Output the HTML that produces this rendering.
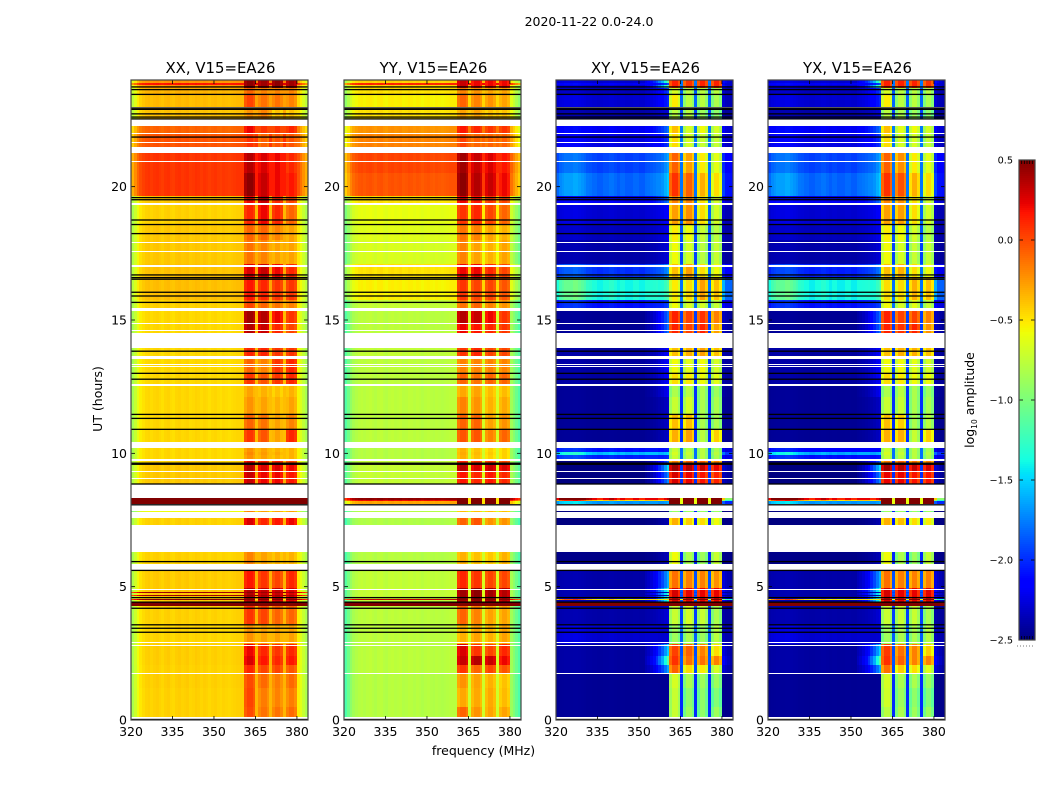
<!DOCTYPE html>
<html>
<head>
<meta charset="utf-8">
<title>2020-11-22 0.0-24.0</title>
<style>
html,body{margin:0;padding:0;background:#fff;width:1050px;height:800px;overflow:hidden}
svg{display:block}
text{font-family:"DejaVu Sans","Liberation Sans",sans-serif;fill:#000}
</style>
</head>
<body>
<svg id="fig" xmlns="http://www.w3.org/2000/svg" width="1050" height="800" viewBox="0 0 1050 800">
<rect x="0" y="0" width="1050" height="800" fill="#fff"/>
<text x="589" y="26" font-size="12.5" text-anchor="middle">2020-11-22 0.0-24.0</text>
<text x="0" y="0" font-size="12.5" text-anchor="middle" transform="translate(102,399) rotate(-90)">UT (hours)</text>
<text x="483.5" y="755" font-size="12.5" text-anchor="middle">frequency (MHz)</text>
<text x="0" y="0" font-size="12.5" text-anchor="middle" transform="translate(974,400) rotate(-90)">log<tspan font-size="7.5" dy="3">10</tspan><tspan dy="-3"> amplitude</tspan></text>
<g id="panels"></g>
<g id="colorbar"></g>
</svg>
<script>
// Axis values
const hourTicks = [0, 5, 10, 15, 20];
const freqTicks = [320, 335, 350, 365, 380];
const colorTicks = [-2.5, -2.0, -1.5, -1.0, -0.5, 0.0, 0.5];
const panelTitles = ["XX, V15=EA26", "YY, V15=EA26", "XY, V15=EA26", "YX, V15=EA26"];
const freqMin = 320, freqMax = 384, hourMin = 0, hourMax = 24, colorMin = -2.5, colorMax = 0.5;

// Time bands (UT hours)
const bandStart = [0.00,0.50,1.20,1.75,2.05,2.40,2.85,3.60,4.27,4.41,4.95,5.85,7.30,7.80,8.10,8.20,8.26,8.85,9.30,9.60,9.75,9.95,10.05,10.43,10.90,11.45,12.10,12.60,13.00,13.65,14.50,14.90,15.46,15.75,16.60,17.10,18.00,18.60,19.35,19.65,20.50,21.49,22.00,22.52,23.00,23.45,23.70,4.50,4.66,4.75,23.83];
const bandEnd   = [0.50,1.20,1.75,2.05,2.40,2.85,3.60,4.27,4.41,4.95,5.62,6.30,7.56,7.84,8.20,8.26,8.31,9.30,9.60,9.75,9.95,10.05,10.25,10.90,11.45,12.10,12.55,13.00,13.54,13.94,14.90,15.34,15.75,16.60,17.10,18.00,18.60,19.35,19.65,20.50,21.27,22.00,22.27,22.95,23.45,23.70,24.00,4.54,4.70,4.79,23.88];

// Background log10 amplitude for each band, outside the RFI sub-bands
const xxBg = [-.45,-.45,-.44,-.45,-.44,-.44,-.46,-.45,.5,-.42,-.43,-.45,-.45,-.6,.5,.5,.5,-.42,-.42,-.44,-.47,-.47,-.47,-.47,-.47,-.47,-.47,-.47,-.47,-.47,-.47,-.47,-.45,-.39,-.4,-.42,-.42,-.45,-.42,.05,.05,-.05,-.1,-.4,-.38,-.35,-.25,.45,.4,.4,.15];
const yyBg = [-.8,-.8,-.8,-.78,-.78,-.78,-.78,-.78,.5,-.75,-.76,-.8,-.82,-.8,-.3,.2,.45,-.75,-.75,-.76,-.8,-.8,-.8,-.78,-.78,-.78,-.78,-.78,-.78,-.76,-.78,-.78,-.75,-.55,-.5,-.68,-.65,-.62,-.5,-.05,0,-.2,-.25,-.5,-.55,-.5,-.45,.3,-.75,-.75,.1];
const xyBg = [-2.45,-2.45,-2.45,-2.42,-2.42,-2.42,-2.3,-2.4,.5,-2.4,-2.4,-2.48,-2.5,-2.5,-1.7,-.5,.1,-2.5,-2.5,-2.5,-2.05,-1.6,-2.1,-2.45,-2.45,-2.45,-2.45,-2.42,-2.42,-2.42,-2.45,-2.45,-2.1,-1.4,-2.0,-2.4,-2.35,-2.3,-2.2,-1.85,-1.95,-2.25,-2.2,-2.4,-2.3,-2.35,-2.3,-.6,-2.4,-2.4,-2.2];
const yxBg = [-2.45,-2.45,-2.45,-2.42,-2.42,-2.42,-2.3,-2.4,.5,-2.4,-2.4,-2.48,-2.5,-2.5,-1.7,-.5,.1,-2.5,-2.5,-2.5,-2.1,-1.65,-2.15,-2.45,-2.45,-2.45,-2.45,-2.42,-2.42,-2.42,-2.45,-2.45,-2.1,-1.42,-2.05,-2.4,-2.35,-2.3,-2.2,-1.85,-1.95,-2.25,-2.2,-2.4,-2.3,-2.35,-2.3,-.6,-2.4,-2.4,-2.2];
// How far cross-hand power leaks below the lowest RFI sub-band
const crossFlare = [0,0,0,.6,1,.7,0,.1,0,.9,.6,.1,.1,0,0,0,0,.6,.8,.5,0,0,0,.1,.1,.1,.2,.2,.2,.2,.5,.5,.1,.1,.2,.1,.1,.1,.3,.2,.2,.2,.3,.1,.2,.3,.9,0,0,0,.2];

// Level of the four RFI sub-bands for each band
const xxSub = [
[-.02,-.15,-.15,-.12],[0,-.18,-.2,-.18],[-.02,-.12,-.18,-.12],[.1,0,0,-.05],[.25,.15,.1,.15],[.2,.1,.05,.1],[-.25,-.3,-.3,-.3],[.05,0,-.1,-.1],
[.5,.5,.5,.5],[.35,.3,.3,.25],[.15,.05,0,.1],[-.2,-.3,-.35,-.35],[.25,.1,.15,.2],[-.2,-.3,-.3,-.3],
[.5,.5,.5,.5],[.5,.5,.5,.5],[.5,.5,.5,.5],[.3,.2,.2,.15],[.35,.25,.25,.2],[.2,.1,.1,0],
[-.25,-.3,-.35,-.35],[-.22,-.28,-.32,-.35],[-.25,-.3,-.35,-.35],[.05,-.05,-.3,.1],[-.1,-.15,-.3,-.2],[-.25,-.3,-.35,-.3],[-.3,-.35,-.4,-.35],
[.05,-.05,.05,.1],[-.1,-.2,.05,.1],[.1,.1,.05,.05],[.35,.3,.1,0],[.4,.35,.2,.05],[0,-.1,-.15,-.2],[.15,.1,.05,.05],[.25,.3,.2,.1],
[-.15,-.2,-.3,-.3],[-.1,-.1,-.2,-.3],[.1,.2,.1,-.1],[.2,.3,.1,0],[.45,.3,.2,.15],[.35,.25,.2,.1],[.05,-.1,-.05,-.05],[.2,.05,.05,.1],
[-.25,-.2,-.4,-.4],[0,-.15,-.15,-.2],[-.1,-.2,-.2,-.2],[.45,.4,.45,.4],[.5,.5,.5,.5],[.45,.4,.4,.4],[.45,.4,.4,.4],[.45,.4,.45,.4]];
const yySub = [
[-.1,-.25,-.3,-.3],[-.32,-.32,-.32,-.38],[-.25,-.3,-.35,-.4],[.05,-.1,0,-.05],[.3,.35,.3,.2],[.25,.05,0,.1],[-.35,-.3,-.35,-.3],[-.1,-.2,-.3,-.3],
[.5,.5,.5,.5],[.4,.45,.4,.35],[.1,.05,0,0],[-.35,-.4,-.42,-.35],[-.1,-.05,-.25,-.25],[-.4,-.4,-.4,-.4],
[.5,.5,.5,.5],[.5,.5,.5,.5],[.5,.5,.5,.5],[.15,.1,.15,.1],[.35,.25,.3,.25],[.1,.05,.05,0],
[-.35,-.4,-.45,-.45],[-.33,-.38,-.43,-.45],[-.35,-.4,-.45,-.45],[-.05,-.05,-.2,-.1],[-.1,-.1,-.3,-.25],[-.2,-.25,-.35,-.32],[-.32,-.3,-.38,-.38],
[-.1,-.15,-.1,-.1],[-.2,-.2,-.2,-.2],[.05,.1,0,0],[.2,.15,.1,.05],[.35,.3,.2,.05],[-.15,-.1,-.2,-.25],[.05,0,0,-.05],[.2,.2,.1,0],
[-.2,-.3,-.35,-.3],[-.15,-.2,-.3,-.35],[.05,.1,0,-.1],[.2,.15,.05,0],[.45,.35,.3,.2],[.4,.3,.25,.15],[0,-.1,-.1,-.1],[.15,.1,.05,.05],
[-.3,-.3,-.4,-.4],[-.1,-.2,-.25,-.3],[-.2,-.25,-.3,-.3],[.3,.2,.2,.2],[.5,.5,.5,.5],[.4,.45,.4,.35],[.4,.45,.4,.35],[.3,.2,.2,.2]];
const xySub = [
[-.75,-.9,-.95,-.9],[-.75,-.95,-.95,-1],[-.7,-.85,-.9,-.9],[-.1,-.5,-.55,-.7],[.05,-.15,-.15,-.2],[0,-.1,-.2,-.5],[-.9,-.85,-.9,-.8],[-.75,-.7,-.75,-.85],
[.5,.5,.5,.5],[.25,.2,.2,.2],[-.15,-.2,-.2,-.25],[-.6,-.85,-.9,-.75],[-.35,-.45,-.5,-.6],[-.9,-.9,-.9,-.9],
[.5,.5,.5,.5],[.5,.5,.5,.5],[.5,.5,.5,.5],[.25,.2,.15,.1],[.4,.35,.3,.2],[-.2,-.1,-.1,-.2],
[-.75,-.8,-.8,-.85],[-.7,-.75,-.8,-.8],[-.75,-.8,-.8,-.85],[-.35,-.3,-.8,-.45],[-.4,-.4,-.85,-.85],[-.75,-.7,-.85,-.85],[-.85,-.8,-.85,-.9],
[-.5,-.55,-.6,-.65],[-.6,-.65,-.6,-.7],[-.4,-.35,-.3,-.4],[.1,0,.1,-.3],[.1,0,.05,-.2],[-.6,-.7,-.7,-.75],[-.55,-.5,-.3,-.4],[-.4,-.3,-.5,-.6],
[-.6,-.7,-.8,-.75],[-.55,-.6,-.75,-.8],[-.3,-.25,-.5,-.7],[-.2,-.2,-.5,-.7],[.05,-.1,-.35,-.5],[-.1,-.3,-.55,-.65],[-.5,-.7,-.75,-.75],[-.4,-.7,-.6,-.7],
[-.8,-.8,-.9,-.95],[-.55,-.8,-.8,-.85],[-.7,-.8,-.8,-.8],[.1,.05,.1,.1],[.5,.5,.5,.5],[.25,.2,.2,.2],[.25,.2,.2,.2],[.1,.05,.1,.1]];
const yxSub = [
[-.8,-.85,-.9,-.9],[-.72,-.9,-.95,-1],[-.7,-.85,-.85,-.9],[-.15,-.45,-.5,-.65],[.05,-.1,-.2,-.2],[.02,-.15,-.2,-.45],[-.9,-.85,-.85,-.8],[-.75,-.75,-.75,-.85],
[.5,.5,.5,.5],[.25,.2,.2,.22],[-.15,-.2,-.2,-.2],[-.6,-.85,-.9,-.75],[-.35,-.4,-.5,-.55],[-.9,-.9,-.9,-.9],
[.5,.5,.5,.5],[.5,.5,.5,.5],[.5,.5,.5,.5],[.2,.2,.15,.15],[.4,.35,.3,.25],[-.2,-.1,-.15,-.2],
[-.75,-.8,-.8,-.85],[-.7,-.75,-.8,-.8],[-.75,-.8,-.8,-.85],[-.35,-.35,-.75,-.45],[-.4,-.45,-.85,-.8],[-.75,-.75,-.85,-.85],[-.85,-.8,-.85,-.9],
[-.5,-.55,-.6,-.6],[-.6,-.6,-.65,-.7],[-.4,-.35,-.35,-.4],[.1,.05,.1,-.25],[.1,0,0,-.2],[-.6,-.7,-.65,-.75],[-.5,-.5,-.35,-.4],[-.4,-.35,-.5,-.6],
[-.6,-.7,-.75,-.75],[-.55,-.6,-.7,-.8],[-.3,-.3,-.5,-.7],[-.2,-.25,-.5,-.7],[.05,-.05,-.35,-.5],[-.1,-.25,-.55,-.65],[-.5,-.7,-.7,-.75],[-.4,-.65,-.6,-.7],
[-.8,-.85,-.9,-.95],[-.55,-.8,-.8,-.85],[-.7,-.8,-.8,-.8],[.1,.1,.1,.05],[.5,.5,.5,.5],[.25,.2,.2,.2],[.25,.2,.2,.2],[.1,.1,.1,.05]];

// Spectral structure per 1 MHz channel (320..383)
const channelRole = [-1,-1,-1,-1,-1,-1,-1,-1,-1,-1,-1,-1,-1,-1,-1,-1,-1,-1,-1,-1,-1,-1,-1,-1,-1,-1,-1,-1,-1,-1,-1,-1,-1,-1,-1,-1,-1,-1,-1,-1,-1,0,0,0,0,-2,1,1,1,1,-2,2,2,2,2,-2,3,3,3,3,-1,-1,-1,-1];
const parallelShape = [-.38,-.26,-.14,-.06,-.02,.01,.02,0,.02,.03,.01,-.01,.02,.03,0,-.01,.02,.03,.01,.02,.03,0,.01,.03,.02,0,.02,.01,-.01,.01,.02,0,-.01,.01,0,-.01,0,.01,.02,.02,.02,0,0,0,0,0,0,0,0,0,0,0,0,0,0,0,0,0,0,0,-.08,-.18,-.28,-.38];
const crossShape = [.05,.2,.25,.3,.3,.3,.35,.35,.3,.25,.2,.12,.1,.05,.05,0,0,.05,.05,.1,.1,.05,0,.05,.05,0,0,0,.05,.05,0,0,.05,.05,.05,.05,.05,0,0,.05,.1,0,0,0,0,0,0,0,0,0,0,0,0,0,0,0,0,0,0,0,-.2,-.4,-.4,-.4];
const flareShape = [0,0,0,0,0,0,0,0,0,0,0,0,0,0,0,0,0,0,0,0,0,0,0,0,0,0,0,0,0,0,0,0,.06,.1,.16,.24,.34,.48,.62,.8,1,0,0,0,0,0,0,0,0,0,0,0,0,0,0,0,0,0,0,0,.2,.15,.1,.05];
const subbandShape = [-.05,.02,.02,-.05];
const crossSubShape = [-.14,.03,.03,-.12];

// Flagged data and dropout lines (UT hours)
const whiteStart = [.05,1.74,2.78,2.88,4.86,5.65,6.30,7.56,7.84,8.31,9.03,9.30,9.71,10.21,12.54,13.23,13.30,13.54,13.94,14.59,14.86,15.34,16.97,17.04,17.55,17.88,18.56,19.33,20.92,21.27,21.65,21.97,22.27];
const whiteEnd   = [.10,1.78,2.83,2.92,4.90,5.85,7.30,7.80,8.06,8.82,9.07,9.34,9.77,10.43,12.60,13.27,13.34,13.65,14.50,14.63,14.90,15.46,17.01,17.08,17.59,17.92,18.60,19.37,20.96,21.49,21.69,22.01,22.52];
const blackLines = [.02,3.29,3.44,3.57,4.19,4.42,4.59,5.61,5.94,8.07,8.85,9.59,9.63,10.90,11.31,11.46,12.78,13.00,13.83,15.66,15.90,16.04,16.53,16.59,16.69,18.24,18.58,18.75,19.51,19.59,21.86,22.54,22.61,22.73,22.90,22.95,23.46,23.64,23.74];

const NS = "http://www.w3.org/2000/svg";
const plotTop = 80, plotBottom = 720, plotWidth = 177;
const panelLeft = [131, 344, 556, 768];
const panelBg = [xxBg, yyBg, xyBg, yxBg];
const panelSub = [xxSub, yySub, xySub, yxSub];
const panelNames = ["xx", "yy", "xy", "yx"];

function make(tag, attrs, parent) {
  const el = document.createElementNS(NS, tag);
  for (const k in attrs) el.setAttribute(k, attrs[k]);
  parent.appendChild(el);
  return el;
}
function yScale(h) { return plotBottom - (h - hourMin) / (hourMax - hourMin) * (plotBottom - plotTop); }
function xScale(left, f) { return left + (f - freqMin) / (freqMax - freqMin) * plotWidth; }
function ramp(t, pts) {
  for (let i = 1; i < pts.length; i++) {
    if (t <= pts[i][0]) {
      const a = pts[i - 1], b = pts[i];
      return a[1] + (b[1] - a[1]) * (t - a[0]) / (b[0] - a[0]);
    }
  }
  return pts[pts.length - 1][1];
}
function jet(v) {
  const t = Math.max(0, Math.min(1, (v - colorMin) / (colorMax - colorMin)));
  const r = ramp(t, [[0, 0], [.35, 0], [.66, 1], [.89, 1], [1, .5]]);
  const g = ramp(t, [[0, 0], [.125, 0], [.375, 1], [.64, 1], [.91, 0], [1, 0]]);
  const b = ramp(t, [[0, .5], [.11, 1], [.34, 1], [.65, 0], [1, 0]]);
  return "rgb(" + Math.round(r * 255) + "," + Math.round(g * 255) + "," + Math.round(b * 255) + ")";
}
function cellValue(p, band, ch) {
  const cross = p >= 2;
  const bg = panelBg[p][band];
  const role = channelRole[ch];
  if (bg >= 0.5) return 0.5;
  if (role >= 0) {
    const pos = ch - channelRole.indexOf(role);
    const lvl = panelSub[p][band][role];
    if (lvl >= 0.5) return 0.5;
    return lvl + (cross ? crossSubShape[pos] : subbandShape[pos]);
  }
  if (role === -2) {
    const low = Math.min.apply(null, panelSub[p][band]);
    if (low >= 0.5) return cross ? -0.6 : -0.5;
    return cross ? Math.min(bg + 0.45, -1.8) + crossFlare[band] * 0.1 : bg + 0.1;
  }
  if (cross) return bg + crossShape[ch] * (bg + 2.5) + crossFlare[band] * flareShape[ch] * 1.3;
  return bg + parallelShape[ch];
}

const panelsG = document.getElementById("panels");
panelLeft.forEach(function (left, p) {
  const g = make("g", {}, panelsG);
  
  

  const face = make("rect", { x: left, y: plotTop, width: plotWidth, height: plotBottom - plotTop, fill: "#fff" }, g);
  
  

  const cells = make("g", { "shape-rendering": "crispEdges" }, g);
  
  
  for (let b = 0; b < bandStart.length; b++) {
    const y1 = Math.round(yScale(bandEnd[b]));
    const y0 = Math.round(yScale(bandStart[b]));
    for (let c = 0; c < channelRole.length; c++) {
      const x0 = Math.round(xScale(left, freqMin + c));
      const x1 = Math.round(xScale(left, freqMin + c + 1));
      const cell = make("rect", { x: x0, y: y1, width: x1 - x0, height: Math.max(1, y0 - y1), fill: jet(cellValue(p, b, c)) }, cells);
      
      
    }
  }
  whiteStart.forEach(function (h, i) {
    const y1 = Math.round(yScale(whiteEnd[i]));
    const y0 = Math.round(yScale(h));
    const gap = make("rect", { x: left, y: y1, width: plotWidth, height: Math.max(1, y0 - y1), fill: "#fff", "shape-rendering": "crispEdges" }, g);
    
    
  });
  blackLines.forEach(function (h) {
    const ln = make("rect", { x: left, y: yScale(h) - 0.65, width: plotWidth, height: 1.3, fill: "#000" }, g);
    
    
  });

  freqTicks.forEach(function (f) {
    const x = xScale(left, f);
    const t1 = make("line", { x1: x, x2: x, y1: plotBottom, y2: plotBottom - 4, stroke: "#000", "stroke-width": 0.8 }, g);
    
    
    const t2 = make("line", { x1: x, x2: x, y1: plotTop, y2: plotTop + 4, stroke: "#000", "stroke-width": 0.8 }, g);
    
    
    const lb = make("text", { x: x, y: 736, "font-size": 12.5, "text-anchor": "middle" }, g);
    
    
    lb.textContent = String(f);
  });
  hourTicks.forEach(function (h) {
    const y = yScale(h);
    const t1 = make("line", { x1: left, x2: left + 4, y1: y, y2: y, stroke: "#000", "stroke-width": 0.8 }, g);
    
    
    const t2 = make("line", { x1: left + plotWidth, x2: left + plotWidth - 4, y1: y, y2: y, stroke: "#000", "stroke-width": 0.8 }, g);
    
    
    const lb = make("text", { x: left - 4, y: y + 4.5, "font-size": 12.5, "text-anchor": "end" }, g);
    
    
    lb.textContent = String(h);
  });
  const frame = make("rect", { x: left, y: plotTop, width: plotWidth, height: plotBottom - plotTop, fill: "none", stroke: "#444", "stroke-width": 1.2 }, g);
  
  
  const title = make("text", { x: left + plotWidth / 2 + 1, y: 73, "font-size": 14.9, "text-anchor": "middle" }, g);
  
  
  title.textContent = panelTitles[p];
});

// Colorbar
const cbG = document.getElementById("colorbar");
const cbLeft = 1019, cbWidth = 16, cbTop = 160, cbBottom = 640;
function cbY(v) { return cbBottom - (v - colorMin) / (colorMax - colorMin) * (cbBottom - cbTop); }
for (let i = 0; i < 240; i++) {
  const v0 = colorMin + (colorMax - colorMin) * i / 240;
  const v1 = colorMin + (colorMax - colorMin) * (i + 1) / 240;
  const seg = make("rect", { x: cbLeft, y: Math.round(cbY(v1)), width: cbWidth, height: Math.max(1, Math.round(cbY(v0)) - Math.round(cbY(v1))), fill: jet((v0 + v1) / 2), "shape-rendering": "crispEdges" }, cbG);
  
  
}
colorTicks.forEach(function (v) {
  const y = cbY(v);
  const a = make("line", { x1: cbLeft, x2: cbLeft + 4, y1: y, y2: y, stroke: "#000", "stroke-width": 0.8 }, cbG);
  
  
  const b = make("line", { x1: cbLeft + cbWidth, x2: cbLeft + cbWidth - 4, y1: y, y2: y, stroke: "#000", "stroke-width": 0.8 }, cbG);
  
  
  const lb = make("text", { x: cbLeft - 6, y: y + 3.5, "font-size": 9.7, "text-anchor": "end" }, cbG);
  
  
  lb.textContent = v.toFixed(1).replace("-", "\u2212");
});
for (let i = 1; i <= 5; i++) {
  const x = cbLeft + i * cbWidth / 6;
  const t = make("line", { x1: x, x2: x, y1: cbTop, y2: cbTop + 4, stroke: "#000", "stroke-width": 0.8 }, cbG);
  
  
  const u = make("line", { x1: x, x2: x, y1: cbBottom, y2: cbBottom - 4, stroke: "#000", "stroke-width": 0.8 }, cbG);
  
  
}
const dots = make("line", { x1: 1017, x2: 1035, y1: 646, y2: 646, stroke: "#777", "stroke-width": 1, "stroke-dasharray": "1 2" }, cbG);


const cbFrame = make("rect", { x: cbLeft, y: cbTop, width: cbWidth, height: cbBottom - cbTop, fill: "none", stroke: "#444", "stroke-width": 1.2 }, cbG);


</script>
</body>
</html>
